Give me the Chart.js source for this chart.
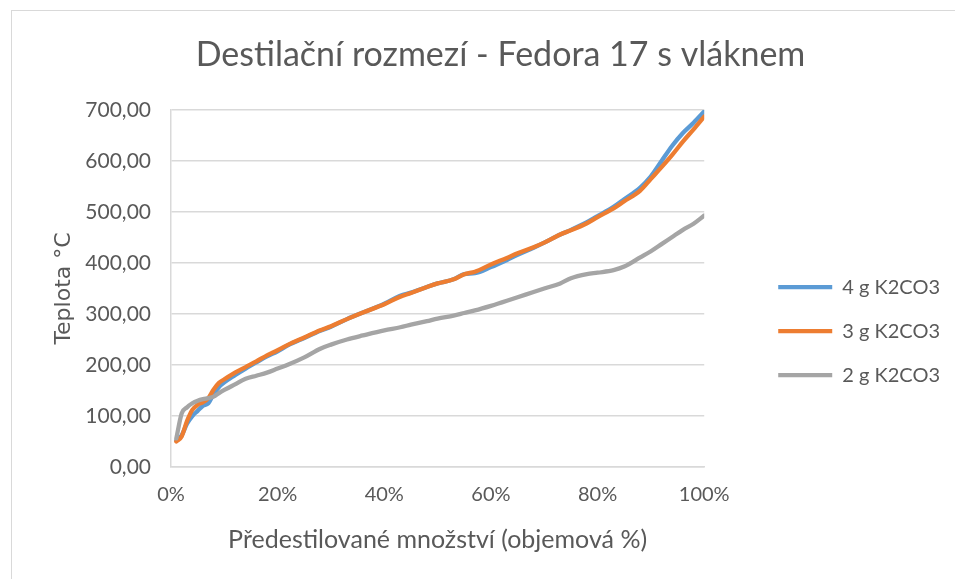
<!DOCTYPE html>
<html>
<head>
<meta charset="utf-8">
<script src="https://cdn.jsdelivr.net/npm/chart.js@4"></script>
<style>
  html,body{margin:0;padding:0;background:#fff;overflow:hidden;}
  #frame{position:absolute;left:11px;top:10px;width:952px;height:570px;border:1px solid #d9d9d9;}
  #frame canvas{display:block;}
</style>
</head>
<body>
<div id="frame"><canvas id="c" width="952" height="570"></canvas></div>
<script>
// Destilační rozmezí — three K2CO3 doses, temperature vs. distilled volume %.
const TITLE = 'Destilační rozmezí - Fedora 17 s vláknem';
const X_TITLE = 'Předestilované množství (objemová %)';
const Y_TITLE = 'Teplota °C';
const SERIES_NAMES = ['4 g K2CO3', '3 g K2CO3', '2 g K2CO3'];
const COLORS = ['#5b9bd5', '#ed7d31', '#a5a5a5'];
const X_TICKS = [0, 20, 40, 60, 80, 100];
const Y_TICKS = [0, 100, 200, 300, 400, 500, 600, 700];

// distilled volume (%) — shared sample positions
const VOL = [1,2,3,4,5,6,7,8,9,10,12,14,16,18,20,22,25,28,30,33,36,40,43,45,48,50,
             53,55,57,60,63,65,68,70,73,75,78,80,83,85,88,90,92,94,96,98,100];
const T_4G = [52,62,85,100,110,120,125,143,157,166,180,193,205,217,227,239,253,267,275,290,303,320,336,342,353,360,
              368,378,380,392,406,416,430,440,456,465,480,492,510,525,548,570,600,630,655,675,697];
const T_3G = [50,60,90,112,122,127,135,152,165,172,185,196,207,219,229,240,254,268,276,290,303,319,334,341,353,360,
              368,378,383,397,410,419,431,440,456,464,478,490,507,521,542,565,588,612,638,662,687];
const T_2G = [56,105,117,125,130,133,135,138,145,151,162,173,179,185,193,201,215,232,240,250,258,268,274,279,286,291,
              297,302,307,316,326,333,343,350,360,370,378,381,386,393,411,423,437,451,465,477,493];

const TXT = '#595959', GRID = '#d9d9d9';
const FONT = 'Lato, "Open Sans", sans-serif';

function pts(ys){ return VOL.map((x,i)=>({x:x, y:ys[i]})); }
const SETS = [T_4G, T_3G, T_2G].map((ys,i)=>({
  label: SERIES_NAMES[i], data: pts(ys),
  borderColor: COLORS[i], backgroundColor: COLORS[i],
  borderWidth: 4.3, pointRadius: 0, tension: 0.3, cubicInterpolationMode: 'monotone',
  borderCapStyle: 'round', borderJoinStyle: 'round',
  order: 3 - i   // later Excel series painted on top
}));

new Chart(document.getElementById('c'), {
  type: 'line',
  data: { datasets: SETS },
  options: {
    responsive: false, animation: false,
    layout: { padding: { left: 39, right: 14, top: 0, bottom: 26 } },
    plugins: {
      tooltip: { enabled: false },
      title: { display: true, text: TITLE, color: TXT,
               font: { family: FONT, size: 34, weight: 'normal' }, padding: { top: 23.6, bottom: 34.6 } },
      legend: { position: 'right', align: 'center',
        title: { display: true, text: ' ', font: { size: 12 }, padding: { top: 82, bottom: 0 } },
        labels: { usePointStyle: true, pointStyle: 'line', pointStyleWidth: 54,
                  sort: (a, b) => a.datasetIndex - b.datasetIndex,
                  color: TXT, font: { family: FONT, size: 20 }, padding: 24 } }
    },
    scales: {
      x: { type: 'linear', min: 0, max: 100,
           afterBuildTicks: s => { s.ticks = X_TICKS.map(v=>({value:v})); },
           ticks: { color: TXT, font: { family: FONT, size: 20 }, padding: 16, maxRotation: 0,
                    callback: v => v + '%' },
           grid: { display: false, drawTicks: false },
           border: { display: true, color: GRID, width: 1.5 },
           title: { display: true, text: X_TITLE, color: TXT, font: { family: FONT, size: 25 },
                    padding: { top: 2, bottom: 0 } } },
      y: { min: 0, max: 700,
           afterBuildTicks: s => { s.ticks = Y_TICKS.map(v=>({value:v})); },
           afterFit: s => { s.width = 120; },
           ticks: { color: TXT, font: { family: FONT, size: 21 }, padding: 20,
                    callback: v => v.toFixed(2).replace('.', ',') },
           grid: { color: GRID, lineWidth: 1.5, drawTicks: false },
           border: { display: true, color: GRID, width: 1.5 },
           title: { display: true, text: Y_TITLE, color: TXT, font: { family: '"DejaVu Sans", Verdana, sans-serif', size: 22 },
                    padding: 0 } },
      // hidden spacer between the plot and the legend
      gap: { position: 'right', display: false, min: 0, max: 700,
             afterFit: s => { s.width = 50; } }
    }
  }
});
</script>
</body>
</html>
